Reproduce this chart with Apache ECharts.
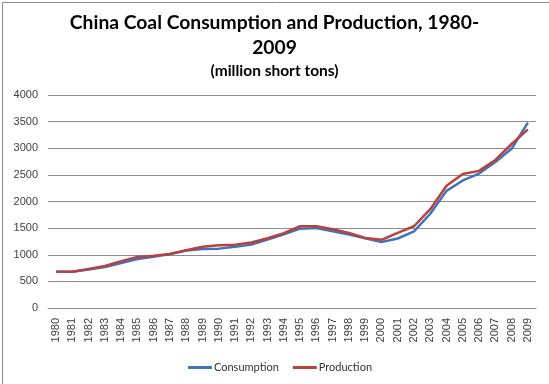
<!DOCTYPE html>
<html><head><meta charset="utf-8">
<script src="https://cdn.jsdelivr.net/npm/echarts@6/dist/echarts.min.js"></script>
<style>html,body{margin:0;padding:0;background:#fff}#c{width:549px;height:384px}</style>
</head><body><div id="c"></div>
<script>
const years = ['1980','1981','1982','1983','1984','1985','1986','1987','1988','1989','1990','1991','1992','1993','1994','1995','1996','1997','1998','1999','2000','2001','2002','2003','2004','2005','2006','2007','2008','2009'];
const consumption = [680,680,725,770,845,920,960,1015,1080,1110,1115,1150,1190,1285,1385,1490,1500,1440,1380,1310,1240,1305,1440,1770,2200,2395,2525,2740,2990,3480];
const production  = [680,680,735,790,880,960,980,1015,1085,1150,1180,1190,1230,1310,1405,1535,1535,1480,1410,1315,1280,1410,1535,1855,2295,2515,2575,2780,3080,3355];
const yTicks = [0,500,1000,1500,2000,2500,3000,3500,4000];

const chart = echarts.init(document.getElementById('c'), null, {renderer:'canvas'});
const font = 'Lato, "Open Sans", sans-serif';
chart.setOption({
  animation:false,
  backgroundColor:'#fff',
  graphic:[{type:'rect',left:0,top:0,shape:{x:0.5,y:0.5,width:548,height:383},style:{fill:'none',stroke:'#8c8c8c',lineWidth:1},silent:true}],
  title:{
    text:'China Coal Consumption and Production, 1980-\n2009',
    subtext:'(million short tons)',
    left:'center', top:5, itemGap:3,
    textStyle:{fontFamily:font,fontWeight:'bold',fontSize:19.3,lineHeight:25,color:'#000'},
    subtextStyle:{fontFamily:font,fontWeight:'bold',fontSize:15.5,color:'#000'}
  },
  legend:{
    bottom:6, left:183, itemWidth:24, itemHeight:3, itemGap:14,
    icon:'rect',
    textStyle:{fontFamily:font,fontSize:11,color:'#333',padding:[0,0,0,-3]},
    data:['Consumption','Production']
  },
  grid:{left:48,right:13,top:95,bottom:76,containLabel:false},
  xAxis:{
    type:'category', data:years, boundaryGap:true,
    axisLine:{lineStyle:{color:'#8c8c8c'}},
    axisTick:{show:false},
    axisLabel:{rotate:90,interval:0,margin:10,fontFamily:'Liberation Sans, sans-serif',fontSize:11,color:'#404040'}
  },
  yAxis:{
    type:'value', min:0, max:4000, interval:500,
    axisLine:{show:false}, axisTick:{show:false},
    splitLine:{lineStyle:{color:'#8c8c8c',width:1}},
    axisLabel:{margin:10,fontFamily:'Liberation Sans, sans-serif',fontSize:11,color:'#404040',
      formatter:v=>yTicks.includes(v)?String(v):''}
  },
  series:[
    {name:'Consumption',type:'line',data:consumption,symbol:'none',lineStyle:{color:'#3f74bd',width:2.5},itemStyle:{color:'#3f74bd'}},
    {name:'Production',type:'line',data:production,symbol:'none',lineStyle:{color:'#b8403d',width:2.5},itemStyle:{color:'#b8403d'}}
  ]
});
</script></body></html>
